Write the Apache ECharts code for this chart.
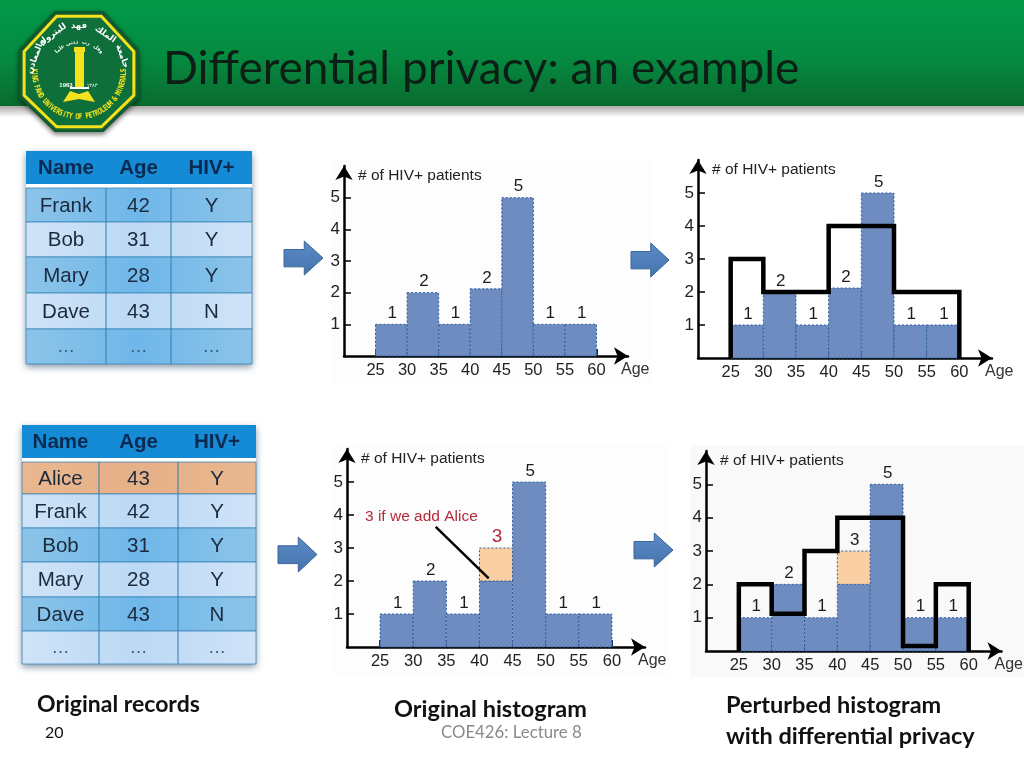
<!DOCTYPE html>
<html>
<head>
<meta charset="utf-8">
<title>Differential privacy: an example</title>
<style>
  html, body { margin: 0; padding: 0; background: #fff; }
  #slide { width: 1024px; height: 768px; }
</style>
<script src="https://cdn.jsdelivr.net/npm/echarts@6/dist/echarts.min.js"></script>
</head>
<body>
<div id="slide"></div>
<script>
// histogram data
const ageEdges = [25, 30, 35, 40, 45, 50, 55, 60];
const ageTicks = [25, 30, 35, 40, 45, 50, 55, 60];
const countTicks = [1, 2, 3, 4, 5];

const barHeightsTop = [1, 2, 1, 2.12, 5, 1, 1];
const barLabelsTop = ['1', '2', '1', '2', '5', '1', '1'];
const barHeightsBottom = [1, 2, 1, 2, 5, 1, 1];
const barLabelsBottom = ['1', '2', '1', '', '5', '1', '1'];
const aliceBin = [40, 45];
const aliceRange = [2, 3];

const perturbedTop = [3, 2, 2, 4, 4, 2, 2];
const perturbedBottom = [2, 1.12, 3, 4, 4, 0.15, 2];

// pointer from the "3 if we add Alice" note to the orange cell
const pointerX = [33.4, 41.4];
const pointerY = [3.64, 2.08];

// tables
const tableHead = ['Name', 'Age', 'HIV+'];
const namesTop = ['Frank', 'Bob', 'Mary', 'Dave', '…'];
const agesTop = ['42', '31', '28', '43', '…'];
const hivTop = ['Y', 'Y', 'Y', 'N', '…'];
const namesBottom = ['Alice', 'Frank', 'Bob', 'Mary', 'Dave', '…'];
const agesBottom = ['43', '42', '31', '28', '43', '…'];
const hivBottom = ['Y', 'Y', 'Y', 'Y', 'N', '…'];

const ARIAL = '"Liberation Sans", Arial, sans-serif';
const CALIBRI = 'Lato, "Noto Sans", sans-serif';
const DARK_ROW = ['#8cc4e8', '#6fb7ea'];
const LIGHT_ROW = ['#cfe3f8', '#bcd9f5'];
const ORANGE_ROW = ['#e9b78f', '#e6b088'];

function hGrad(c) {
  return { type: 'linear', x: 0, y: 0, x2: 1, y2: 0, colorStops: [
    { offset: 0, color: c[0] }, { offset: 0.5, color: c[1] }, { offset: 1, color: c[0] },
  ] };
}

function binRows(heights, labels) {
  return heights.map((h, i) => [ageEdges[i], ageEdges[i + 1], 0, h, labels[i]]);
}

function stepPoints(tops) {
  const pts = [[ageEdges[0], 0]];
  tops.forEach((t, i) => {
    pts.push([ageEdges[i], t]);
    pts.push([ageEdges[i + 1], t]);
  });
  pts.push([ageEdges[ageEdges.length - 1], 0]);
  return pts;
}

function binRender(fill, labelColor, labelSize) {
  return (params, api) => {
    const p0 = api.coord([api.value(0), api.value(2)]);
    const p1 = api.coord([api.value(1), api.value(3)]);
    const label = api.value(4);
    const children = [{
      type: 'rect',
      shape: { x: p0[0], y: p1[1], width: p1[0] - p0[0], height: p0[1] - p1[1] },
      style: { fill, stroke: '#2b5c9e', lineWidth: 1, lineDash: [2, 2] },
    }];
    if (label && label !== '-') {
      children.push({
        type: 'text',
        style: {
          text: String(label), x: (p0[0] + p1[0]) / 2 + 1, y: p1[1] - 11,
          align: 'center', verticalAlign: 'middle',
          fontFamily: ARIAL, fontSize: labelSize, fill: labelColor,
        },
      });
    }
    return { type: 'group', children };
  };
}

function binSeries(i, rows, fill, labelColor = '#1c1c1c', labelSize = 17) {
  return {
    type: 'custom', xAxisIndex: i, yAxisIndex: i, z: 3, clip: false,
    renderItem: binRender(fill, labelColor, labelSize),
    encode: { x: [0, 1], y: [2, 3] },
    dimensions: ['from', 'to', 'low', 'high', { name: 'label', type: 'ordinal' }],
    data: rows,
  };
}

function stepSeries(i, tops) {
  return {
    type: 'line', xAxisIndex: i, yAxisIndex: i, z: 5, clip: false,
    symbol: 'none', animation: false,
    lineStyle: { color: '#000', width: 4.5, cap: 'butt', join: 'miter' },
    data: stepPoints(tops),
  };
}

// [left, top, width, height] of each plot, y axis to arrow tips
const plots = [
  { left: 344, top: 166, width: 284, height: 190 },
  { left: 698, top: 160, width: 294, height: 198 },
  { left: 347, top: 449, width: 298, height: 198 },
  { left: 706, top: 451, width: 300, height: 200 },
];

function xAxisFor(i) {
  return {
    type: 'value', gridIndex: i, min: 20, max: 65, interval: 5,
    name: 'Age', nameLocation: 'end', nameGap: -7,
    nameTextStyle: { color: '#333', fontFamily: ARIAL, fontSize: 16, align: 'left', verticalAlign: 'top', padding: [6, 0, 0, 0] },
    axisLine: { show: true, symbol: ['none', 'arrow'], symbolSize: [13, 14], lineStyle: { color: '#000', width: 2.5 } },
    axisTick: { show: true, inside: true, length: 7, customValues: ageTicks, lineStyle: { color: '#12305e', width: 2 } },
    axisLabel: { customValues: ageTicks, margin: 6, color: '#222', fontFamily: ARIAL, fontSize: 16.5 },
    splitLine: { show: false },
  };
}

function yAxisFor(i) {
  return {
    type: 'value', gridIndex: i, min: 0, max: 6, interval: 1,
    name: '# of HIV+ patients', nameLocation: 'end', nameGap: -10,
    nameTextStyle: { color: '#222', fontFamily: ARIAL, fontSize: 15.5, align: 'left', verticalAlign: 'middle', padding: [0, 0, 0, 14] },
    axisLine: { show: true, symbol: ['none', 'arrow'], symbolSize: [13, 14], lineStyle: { color: '#000', width: 2.5 } },
    axisTick: { show: true, inside: true, length: 7, customValues: countTicks, lineStyle: { color: '#000', width: 1.5 } },
    axisLabel: { customValues: countTicks, margin: 4, color: '#222', fontFamily: ARIAL, fontSize: 17 },
    splitLine: { show: false },
  };
}

// ---- non-chart parts of the slide ----
function tableGraphics(x0, colX, rowY, headBottom, rows, rowColors) {
  const out = [];
  const right = colX[colX.length - 1];
  const top = rowY[0];
  const bottom = rowY[rowY.length - 1];
  out.push({ type: 'rect', z: 1, shape: { x: x0, y: top, width: right - x0, height: bottom - top },
    style: { fill: '#fff', shadowBlur: 7, shadowOffsetY: 3, shadowColor: 'rgba(30,60,90,0.55)' } });
  out.push({ type: 'rect', z: 2, shape: { x: x0, y: top, width: right - x0, height: headBottom - top },
    style: { fill: '#168bd5' } });
  tableHead.forEach((t, c) => {
    out.push({ type: 'text', z: 4, style: { text: t, x: (colX[c] + colX[c + 1]) / 2, y: (top + headBottom) / 2 + 1,
      align: 'center', verticalAlign: 'middle', fontFamily: ARIAL, fontWeight: 'bold', fontSize: 20.5, fill: '#0b2a52' } });
  });
  rows[0].forEach((_, r) => {
    const y = rowY[r + 1];
    const h = rowY[r + 2] - y;
    out.push({ type: 'rect', z: 2, shape: { x: x0, y, width: right - x0, height: h },
      style: { fill: hGrad(rowColors[r]), stroke: '#3b86b8', lineWidth: 0.8 } });
    rows.forEach((col, c) => {
      const txt = col[r];
      out.push({ type: 'text', z: 4, style: { text: txt, x: (colX[c] + colX[c + 1]) / 2, y: y + h / 2 + 1,
        align: 'center', verticalAlign: 'middle', fontFamily: ARIAL, fontSize: txt === '…' ? 18 : 20.5, fill: txt === '…' ? '#3a5a7a' : '#1b2a3c' } });
    });
  });
  colX.slice(1, -1).forEach((x) => {
    out.push({ type: 'line', z: 3, shape: { x1: x, y1: rowY[1], x2: x, y2: bottom },
      style: { stroke: '#2f7fae', lineWidth: 1 } });
  });
  return out;
}

function blockArrow(x, y, w, h) {
  const head = x + w * 0.52;
  const s1 = y + h * 0.25;
  const s2 = y + h * 0.76;
  return {
    type: 'polygon', z: 1,
    shape: { points: [[x, s1], [head, s1], [head, y], [x + w, y + h / 2], [head, y + h], [head, s2], [x, s2]] },
    style: { fill: { type: 'linear', x: 0, y: 0, x2: 0, y2: 1, colorStops: [
      { offset: 0, color: '#5b8ac4' }, { offset: 1, color: '#4674ae' } ] },
      stroke: '#3a6699', lineWidth: 1 },
  };
}

function caption(text, x, y, size, weight = 'bold', fill = '#111') {
  return { type: 'text', z: 4, style: { text, x, y, verticalAlign: 'middle', fontFamily: CALIBRI, fontSize: size, fontWeight: weight, fill } };
}

function ringText(chars, cx, cy, r, fromDeg, toDeg, size, flip, fill, scaleX = 1) {
  const n = chars.length;
  return chars.map((ch, i) => {
    const deg = fromDeg + (toDeg - fromDeg) * (n > 1 ? i / (n - 1) : 0.5);
    const a = deg * Math.PI / 180;
    return {
      type: 'text', z: 7, x: cx + r * Math.cos(a), y: cy - r * Math.sin(a),
      rotation: flip ? a + Math.PI / 2 : a - Math.PI / 2,
      scaleX,
      style: { text: ch, align: 'center', verticalAlign: 'middle', fontFamily: '"DejaVu Sans", ' + ARIAL, fontSize: size, fontWeight: 'bold', fill },
    };
  });
}

function logoGraphics() {
  const cx = 79, cy = 72;
  const octagon = [[55, 12], [103, 12], [138, 50], [138, 97], [103, 131], [55, 131], [20, 97], [20, 50]];
  const inner = octagon.map(([x, y]) => [cx + (x - cx) * 0.93, cy + (y - cy) * 0.93]);
  const yellow = '#f4e21c';
  return [
    { type: 'polygon', z: 6, shape: { points: octagon },
      style: { fill: '#1c6b38', stroke: '#0d5a2c', lineWidth: 2, shadowBlur: 5, shadowOffsetY: 2, shadowColor: 'rgba(0,0,0,0.5)' } },
    { type: 'polygon', z: 6, shape: { points: inner }, style: { fill: '#0f6f3a', stroke: yellow, lineWidth: 3 } },
    { type: 'rect', z: 7, shape: { x: 75, y: 52, width: 9, height: 35 }, style: { fill: yellow } },
    { type: 'rect', z: 7, shape: { x: 74, y: 47, width: 11, height: 5 }, style: { fill: yellow } },
    { type: 'polygon', z: 7, shape: { points: [[63, 102], [70, 91], [79, 94], [88, 91], [95, 102], [79, 99]] }, style: { fill: yellow } },
    { type: 'rect', z: 7, shape: { x: 70, y: 87, width: 19, height: 2 }, style: { fill: '#fff' } },
    { type: 'text', z: 7, style: { text: '1963', x: 66, y: 85.5, align: 'center', verticalAlign: 'middle', fontFamily: ARIAL, fontSize: 6, fontWeight: 'bold', fill: '#fff' } },
    { type: 'text', z: 7, style: { text: '١٣٨٣', x: 92, y: 85.5, align: 'center', verticalAlign: 'middle', fontFamily: '"DejaVu Sans"', fontSize: 5, fill: '#fff' } },
    ...ringText('KING FAHD UNIVERSITY OF PETROLEUM & MINERALS'.split(''), cx, cy, 45, 178, 362, 8, true, yellow, 0.6),
    ...ringText(['جامعة', 'الملك', 'فهد', 'للبترول', 'والمعادن'], cx, cy, 46, 20, 160, 8.5, false, '#fff'),
    ...ringText(['وقل', 'رب', 'زدني', 'علما'], cx, cy, 30, 50, 130, 5, false, '#fff'),
  ];
}

const topPanel = { type: 'rect', z: -1, shape: { x: 330, y: 160, width: 322, height: 225 }, style: { fill: '#fdfdfd' } };
const bottomPanel = { type: 'rect', z: -1, shape: { x: 332, y: 445, width: 338, height: 230 }, style: { fill: '#fdfdfd' } };
const rightPanel = { type: 'rect', z: -1, shape: { x: 690, y: 445, width: 334, height: 232 }, style: { fill: '#f9f9f9' } };

const graphics = [
  // header band and its shadow
  { type: 'rect', z: 1, shape: { x: 0, y: 0, width: 1024, height: 106 },
    style: { fill: { type: 'linear', x: 0, y: 0, x2: 0, y2: 1, colorStops: [
      { offset: 0, color: '#029a49' }, { offset: 0.55, color: '#058a40' }, { offset: 1, color: '#0a6a30' } ] } } },
  { type: 'rect', z: 1, shape: { x: 0, y: 106, width: 1024, height: 11 },
    style: { fill: { type: 'linear', x: 0, y: 0, x2: 0, y2: 1, colorStops: [
      { offset: 0, color: '#a9a9a9' }, { offset: 1, color: '#ffffff' } ] } } },
  { type: 'text', z: 4, style: { text: 'Differential privacy: an example', x: 163, y: 69, verticalAlign: 'middle',
    fontFamily: CALIBRI, fontSize: 46, fill: '#0c1f14' } },
  ...logoGraphics(),
  topPanel, bottomPanel, rightPanel,
  ...tableGraphics(26, [26, 106, 171, 252], [151, 188, 222, 257, 293, 329, 364], 184,
    [namesTop, agesTop, hivTop], [DARK_ROW, LIGHT_ROW, DARK_ROW, LIGHT_ROW, DARK_ROW]),
  ...tableGraphics(22, [22, 99, 178, 256], [425, 462, 494, 528, 562, 597, 631, 664], 458,
    [namesBottom, agesBottom, hivBottom], [ORANGE_ROW, LIGHT_ROW, DARK_ROW, LIGHT_ROW, DARK_ROW, LIGHT_ROW]),
  blockArrow(284, 241, 39, 34),
  blockArrow(631, 243, 38, 34),
  blockArrow(278, 537, 39, 35),
  blockArrow(634, 533, 39, 34),
  caption('Original records', 37, 705, 23),
  caption('20', 45, 733, 16, 'normal'),
  caption('Original histogram', 394, 709, 23.5),
  caption('COE426: Lecture 8', 441, 733, 16.8, 'normal', '#8a8a8a'),
  caption('Perturbed histogram', 726, 705, 23.5),
  caption('with differential privacy', 726, 736, 23.5),
  { type: 'text', z: 8, style: { text: '3 if we add Alice', x: 365, y: 517, verticalAlign: 'middle',
    fontFamily: ARIAL, fontSize: 15.5, fill: '#b5293c' } },
];

const BLUE = '#6e8cc0';
const ORANGE = '#f9cfa3';

const chart = echarts.init(document.getElementById('slide'), null, { renderer: 'canvas' });
chart.setOption({
  animation: false,
  backgroundColor: '#fff',
  tooltip: { show: false },
  grid: plots,
  xAxis: plots.map((_, i) => xAxisFor(i)),
  yAxis: plots.map((_, i) => yAxisFor(i)),
  graphic: graphics,
  series: [
    binSeries(0, binRows(barHeightsTop, barLabelsTop), BLUE),
    binSeries(1, binRows(barHeightsTop, barLabelsTop), BLUE),
    stepSeries(1, perturbedTop),
    binSeries(2, binRows(barHeightsBottom, barLabelsBottom), BLUE),
    binSeries(2, [[aliceBin[0], aliceBin[1], aliceRange[0], aliceRange[1], '3']], ORANGE, '#b5293c', 19),
    {
      type: 'line', xAxisIndex: 2, yAxisIndex: 2, z: 6, symbol: 'none', clip: false,
      lineStyle: { color: '#000', width: 2.5 },
      data: pointerX.map((x, i) => [x, pointerY[i]]),
    },
    binSeries(3, binRows(barHeightsBottom, barLabelsBottom), BLUE),
    binSeries(3, [[aliceBin[0], aliceBin[1], aliceRange[0], aliceRange[1], '3']], ORANGE),
    stepSeries(3, perturbedBottom),
  ],
});
</script>
</body>
</html>
